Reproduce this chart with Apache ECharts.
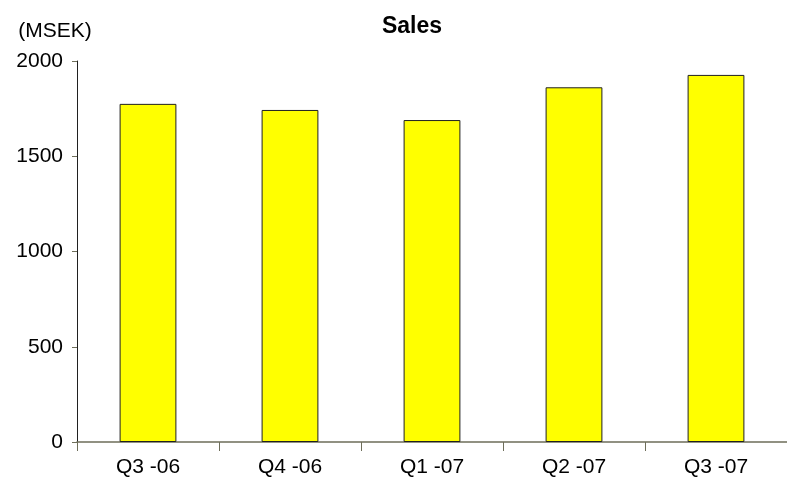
<!DOCTYPE html>
<html><head><meta charset="utf-8">
<script src="https://cdn.jsdelivr.net/npm/echarts@6/dist/echarts.min.js"></script>
<style>html,body{margin:0;padding:0;background:#fff}#c{width:787px;height:496px}</style>
</head><body><div id="c"></div>
<script>
var categories = ['Q3 -06', 'Q4 -06', 'Q1 -07', 'Q2 -07', 'Q3 -07'];
var sales = [1775, 1743, 1690, 1862, 1927];
var yTicks = [0, 500, 1000, 1500, 2000];
var FONT = "'Liberation Sans Narrow', 'Liberation Sans', Arial, sans-serif";
var chart = echarts.init(document.getElementById('c'), null, {renderer: 'canvas'});
chart.setOption({
  animation: false,
  backgroundColor: '#ffffff',
  title: {
    text: 'Sales', left: 407, top: 10, textAlign: 'center',
    textStyle: {fontFamily: "'Liberation Sans', Arial, sans-serif", fontWeight: 'bold', fontSize: 23, color: '#000'}
  },
  grid: {left: 77, right: 0, top: 61, bottom: 54, containLabel: false},
  xAxis: {
    type: 'category', data: categories, boundaryGap: true,
    axisLine: {show: true, lineStyle: {color: '#6e6e5a', width: 1.5}},
    axisTick: {show: true, length: 9, alignWithLabel: false, lineStyle: {color: '#6e6e5a'}},
    axisLabel: {margin: 15, fontSize: 21, color: '#000', fontFamily: FONT}
  },
  yAxis: {
    type: 'value', min: yTicks[0], max: yTicks[yTicks.length - 1], interval: 500,
    name: '(MSEK)', nameLocation: 'end', nameGap: 19,
    nameTextStyle: {fontSize: 21, color: '#000', fontFamily: FONT, align: 'center', padding: [0, 44, 0, 0]},
    axisLine: {show: true, lineStyle: {color: '#202020', width: 1}},
    axisTick: {show: true, length: 5, lineStyle: {color: '#6e6e5a'}},
    splitLine: {show: false},
    axisLabel: {margin: 14, fontSize: 21, color: '#000', fontFamily: FONT, formatter: function (v) { return String(v); }}
  },
  series: [{
    type: 'bar', data: sales, barWidth: '40%',
    itemStyle: {color: '#ffff00', borderColor: '#202020', borderWidth: 1}
  }]
});
</script></body></html>
